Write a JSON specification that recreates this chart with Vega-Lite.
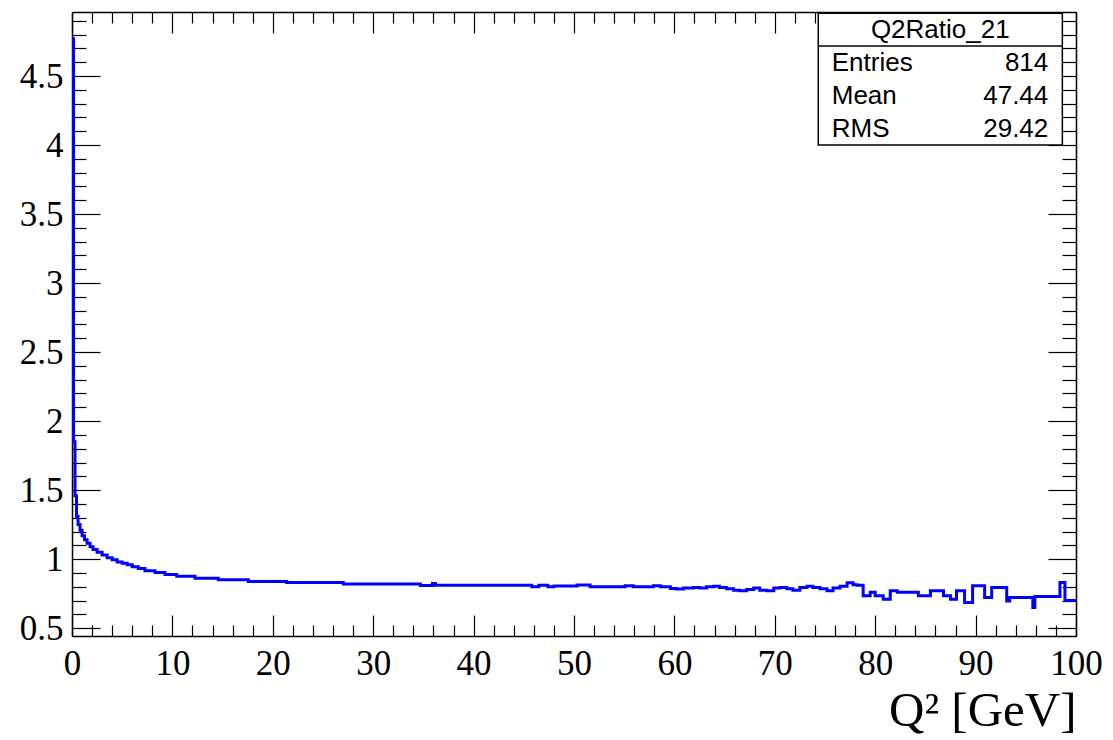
{
  "$schema": "https://vega.github.io/schema/vega-lite/v6.json",
  "width": 1004,
  "height": 624,
  "autosize": {"type": "none"},
  "padding": {"left": 72, "top": 12, "right": 37, "bottom": 104},
  "background": "white",
  "config": {"view": {"stroke": null}, "axis": {"grid": false}},
  "datasets": {
    "hist": [
      {"q2": 0, "ratio": 4.77}, {"q2": 0.15, "ratio": 1.85}, {"q2": 0.3, "ratio": 1.46}, {"q2": 0.45, "ratio": 1.31},
      {"q2": 0.6, "ratio": 1.25}, {"q2": 0.8, "ratio": 1.21}, {"q2": 1.0, "ratio": 1.17}, {"q2": 1.25, "ratio": 1.14},
      {"q2": 1.5, "ratio": 1.115}, {"q2": 1.8, "ratio": 1.09}, {"q2": 2.1, "ratio": 1.07}, {"q2": 2.5, "ratio": 1.05},
      {"q2": 3.0, "ratio": 1.03}, {"q2": 3.5, "ratio": 1.01}, {"q2": 4.0, "ratio": 0.995}, {"q2": 4.5, "ratio": 0.98},
      {"q2": 5.0, "ratio": 0.97}, {"q2": 5.5, "ratio": 0.96}, {"q2": 6.0, "ratio": 0.945}, {"q2": 6.6, "ratio": 0.932},
      {"q2": 7.27, "ratio": 0.915}, {"q2": 8.27, "ratio": 0.903}, {"q2": 9.26, "ratio": 0.889}, {"q2": 10.43, "ratio": 0.875},
      {"q2": 12.25, "ratio": 0.862}, {"q2": 14.57, "ratio": 0.85}, {"q2": 17.56, "ratio": 0.838}, {"q2": 21.38, "ratio": 0.831},
      {"q2": 27.02, "ratio": 0.819}, {"q2": 34.7, "ratio": 0.808}, {"q2": 35.9, "ratio": 0.824}, {"q2": 36.2, "ratio": 0.81},
      {"q2": 45.8, "ratio": 0.8}, {"q2": 46.5, "ratio": 0.81}, {"q2": 47.4, "ratio": 0.8}, {"q2": 48.0, "ratio": 0.806},
      {"q2": 50.3, "ratio": 0.812}, {"q2": 51.6, "ratio": 0.8}, {"q2": 55.1, "ratio": 0.807}, {"q2": 55.9, "ratio": 0.799},
      {"q2": 57.9, "ratio": 0.807}, {"q2": 58.6, "ratio": 0.799}, {"q2": 59.6, "ratio": 0.787}, {"q2": 60.2, "ratio": 0.783},
      {"q2": 60.9, "ratio": 0.79}, {"q2": 61.9, "ratio": 0.795}, {"q2": 62.5, "ratio": 0.79}, {"q2": 63.2, "ratio": 0.799},
      {"q2": 63.9, "ratio": 0.804}, {"q2": 64.5, "ratio": 0.795}, {"q2": 65.2, "ratio": 0.785}, {"q2": 65.9, "ratio": 0.775},
      {"q2": 66.5, "ratio": 0.77}, {"q2": 67.2, "ratio": 0.78}, {"q2": 67.9, "ratio": 0.79}, {"q2": 68.5, "ratio": 0.775},
      {"q2": 69.2, "ratio": 0.77}, {"q2": 69.9, "ratio": 0.79}, {"q2": 70.5, "ratio": 0.795}, {"q2": 71.2, "ratio": 0.785},
      {"q2": 71.8, "ratio": 0.775}, {"q2": 72.5, "ratio": 0.795}, {"q2": 73.2, "ratio": 0.804}, {"q2": 73.8, "ratio": 0.795},
      {"q2": 74.5, "ratio": 0.785}, {"q2": 75.2, "ratio": 0.77}, {"q2": 75.8, "ratio": 0.79}, {"q2": 76.5, "ratio": 0.804},
      {"q2": 77.2, "ratio": 0.828}, {"q2": 77.8, "ratio": 0.814}, {"q2": 78.2, "ratio": 0.81}, {"q2": 78.8, "ratio": 0.735},
      {"q2": 79.5, "ratio": 0.76}, {"q2": 80.0, "ratio": 0.735}, {"q2": 80.8, "ratio": 0.71}, {"q2": 81.5, "ratio": 0.77},
      {"q2": 82.2, "ratio": 0.76}, {"q2": 84.3, "ratio": 0.735}, {"q2": 85.5, "ratio": 0.77}, {"q2": 86.8, "ratio": 0.735},
      {"q2": 87.5, "ratio": 0.71}, {"q2": 88.1, "ratio": 0.77}, {"q2": 88.9, "ratio": 0.686}, {"q2": 89.7, "ratio": 0.807},
      {"q2": 90.9, "ratio": 0.722}, {"q2": 91.6, "ratio": 0.795}, {"q2": 93.1, "ratio": 0.697}, {"q2": 93.4, "ratio": 0.722},
      {"q2": 95.7, "ratio": 0.65}, {"q2": 95.9, "ratio": 0.73}, {"q2": 98.4, "ratio": 0.83}, {"q2": 98.9, "ratio": 0.7},
      {"q2": 100, "ratio": 0.7}
    ],
    "box": [{"name": "Q2Ratio_21"}],
    "stats": [
      {"stat": "Entries", "value": "814"},
      {"stat": "Mean", "value": "47.44"},
      {"stat": "RMS", "value": "29.42"}
    ]
  },
  "layer": [
    {
      "data": {"name": "hist"},
      "mark": {"type": "line", "interpolate": "step-after", "color": "#0000ff", "strokeWidth": 3},
      "encoding": {
        "x": {
          "field": "q2", "type": "quantitative",
          "scale": {"domain": [0, 100], "nice": false, "zero": false},
          "axis": {
            "orient": "bottom",
            "values": [0,2,4,6,8,10,12,14,16,18,20,22,24,26,28,30,32,34,36,38,40,42,44,46,48,50,52,54,56,58,60,62,64,66,68,70,72,74,76,78,80,82,84,86,88,90,92,94,96,98,100],
            "tickSize": {"condition": {"test": "datum.value % 10 === 0", "value": -21}, "value": -11},
            "tickColor": "black", "tickWidth": 1.2,
            "domainColor": "black", "domainWidth": 1.5,
            "format": "d",
            "labelExpr": "datum.value % 10 === 0 ? datum.label : ''",
            "labelFont": "Liberation Serif", "labelFontSize": 35, "labelColor": "black",
            "labelPadding": 31, "labelOverlap": false, "labelFlush": false, "labelBound": false,
            "title": "Q² [GeV]", "titleFont": "Liberation Serif", "titleFontSize": 49,
            "titleFontWeight": "normal", "titleColor": "black",
            "titleAnchor": "end", "titleAlign": "right", "titleBaseline": "alphabetic",
            "titleX": 1004, "titleY": 89
          }
        },
        "y": {
          "field": "ratio", "type": "quantitative",
          "scale": {"domain": [0.443, 4.964], "nice": false, "zero": false},
          "axis": {
            "orient": "left",
            "values": [0.5,0.6,0.7,0.8,0.9,1.0,1.1,1.2,1.3,1.4,1.5,1.6,1.7,1.8,1.9,2.0,2.1,2.2,2.3,2.4,2.5,2.6,2.7,2.8,2.9,3.0,3.1,3.2,3.3,3.4,3.5,3.6,3.7,3.8,3.9,4.0,4.1,4.2,4.3,4.4,4.5,4.6,4.7,4.8,4.9],
            "tickSize": {"condition": {"test": "abs(datum.value*2 - round(datum.value*2)) < 0.001", "value": -28}, "value": -14},
            "tickColor": "black", "tickWidth": 1.2,
            "domainColor": "black", "domainWidth": 1.5,
            "format": ".1~f",
            "labelExpr": "abs(datum.value*2 - round(datum.value*2)) < 0.001 ? datum.label : ''",
            "labelFont": "Liberation Serif", "labelFontSize": 35, "labelColor": "black",
            "labelPadding": 37, "labelOverlap": false, "labelFlush": false, "labelBound": false,
            "title": null
          }
        }
      }
    },
    {
      "data": {"name": "hist"},
      "mark": {"type": "line", "interpolate": "step-after", "color": "#0000ff", "strokeWidth": 3, "strokeOpacity": 0},
      "encoding": {
        "x": {
          "field": "q2", "type": "quantitative",
          "axis": {
            "orient": "top",
            "values": [0,2,4,6,8,10,12,14,16,18,20,22,24,26,28,30,32,34,36,38,40,42,44,46,48,50,52,54,56,58,60,62,64,66,68,70,72,74,76,78,80,82,84,86,88,90,92,94,96,98,100],
            "tickSize": {"condition": {"test": "datum.value % 10 === 0", "value": -21}, "value": -11},
            "tickColor": "black", "tickWidth": 1.2,
            "domainColor": "black", "domainWidth": 1.5,
            "labels": false, "title": null
          }
        },
        "y": {
          "field": "ratio", "type": "quantitative",
          "axis": {
            "orient": "right",
            "values": [0.5,0.6,0.7,0.8,0.9,1.0,1.1,1.2,1.3,1.4,1.5,1.6,1.7,1.8,1.9,2.0,2.1,2.2,2.3,2.4,2.5,2.6,2.7,2.8,2.9,3.0,3.1,3.2,3.3,3.4,3.5,3.6,3.7,3.8,3.9,4.0,4.1,4.2,4.3,4.4,4.5,4.6,4.7,4.8,4.9],
            "tickSize": {"condition": {"test": "abs(datum.value*2 - round(datum.value*2)) < 0.001", "value": -28}, "value": -14},
            "tickColor": "black", "tickWidth": 1.2,
            "domainColor": "black", "domainWidth": 1.5,
            "labels": false, "title": null
          }
        }
      }
    },
    {
      "data": {"name": "box"},
      "mark": {"type": "rect", "fill": "white", "stroke": "black", "strokeWidth": 1.5},
      "encoding": {
        "x": {"datum": 74.33, "type": "quantitative", "axis": null},
        "x2": {"datum": 98.64},
        "y": {"datum": 4.955, "type": "quantitative", "axis": null},
        "y2": {"datum": 4.0}
      }
    },
    {
      "data": {"name": "box"},
      "mark": {"type": "rule", "stroke": "black", "strokeWidth": 1.5},
      "encoding": {
        "x": {"datum": 74.33, "type": "quantitative", "axis": null},
        "x2": {"datum": 98.64},
        "y": {"datum": 4.718, "type": "quantitative", "axis": null}
      }
    },
    {
      "data": {"name": "box"},
      "mark": {"type": "text", "font": "Liberation Sans", "fontSize": 26, "align": "center", "baseline": "middle", "color": "black"},
      "encoding": {
        "x": {"datum": 86.48, "type": "quantitative", "axis": null},
        "y": {"datum": 4.834, "type": "quantitative", "axis": null},
        "text": {"field": "name"}
      }
    },
    {
      "data": {"name": "stats"},
      "mark": {"type": "text", "font": "Liberation Sans", "fontSize": 26, "align": "left", "baseline": "middle", "color": "black"},
      "encoding": {
        "x": {"datum": 75.67, "type": "quantitative", "axis": null},
        "y": {"datum": 4.597, "type": "quantitative", "axis": null},
        "yOffset": {"field": "stat", "type": "nominal", "scale": {"type": "point", "domain": ["Entries", "Mean", "RMS"], "range": [0, 66], "padding": 0}},
        "text": {"field": "stat"}
      }
    },
    {
      "data": {"name": "stats"},
      "mark": {"type": "text", "font": "Liberation Sans", "fontSize": 26, "align": "right", "baseline": "middle", "color": "black"},
      "encoding": {
        "x": {"datum": 97.24, "type": "quantitative", "axis": null},
        "y": {"datum": 4.597, "type": "quantitative", "axis": null},
        "yOffset": {"field": "stat", "type": "nominal", "scale": {"type": "point", "domain": ["Entries", "Mean", "RMS"], "range": [0, 66], "padding": 0}},
        "text": {"field": "value"}
      }
    }
  ],
  "resolve": {"axis": {"x": "independent", "y": "independent"}}
}
